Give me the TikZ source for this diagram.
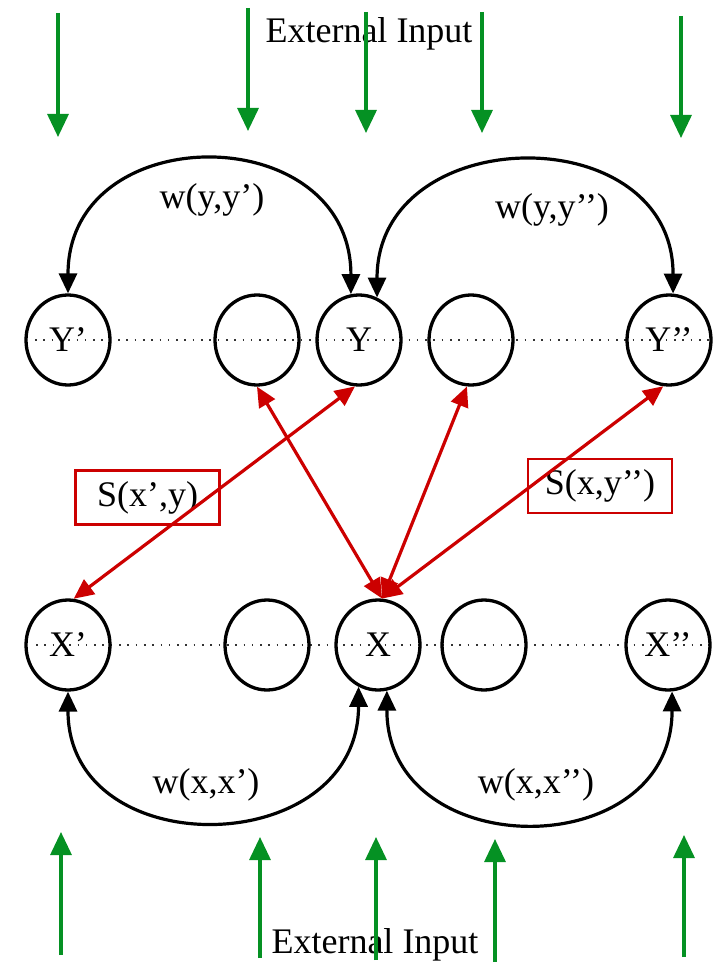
\documentclass[tikz,border=0pt]{standalone}
\usepackage{fontspec}
\setmainfont{Liberation Serif}
\usetikzlibrary{arrows.meta,shapes.geometric}
\definecolor{gr}{RGB}{5,145,35}
\definecolor{rd}{RGB}{204,0,0}
\tikzset{
  lbl/.style={font=\fontsize{36}{42}\selectfont, inner sep=0pt},
  unit/.style={ellipse, draw, line width=3.3pt, minimum width=84pt, minimum height=90pt, inner sep=0pt, font=\fontsize{36}{42}\selectfont},
  weight/.style={line width=3.2pt, {Triangle[length=20pt,width=18pt]}-{Triangle[length=20pt,width=18pt]}},
  sim/.style={rd, line width=3.2pt, {Triangle[length=20pt,width=18pt]}-{Triangle[length=20pt,width=18pt]}},
  simbox/.style={draw=rd, line width=2.8pt, minimum width=144pt, minimum height=54pt, inner sep=0pt, font=\fontsize{36}{42}\selectfont},
  inp/.style={gr, line width=3.2pt, -{Triangle[length=23pt,width=21pt]}},
  dotline/.style={line width=1.6pt, dash pattern=on 1.6pt off 6.7pt, black!80}
}
\begin{document}
\begin{tikzpicture}[x=1pt,y=-1pt]
\useasboundingbox (0,0) rectangle (713,963);

% dotted rows
\coordinate (dyl) at (35,340);
\coordinate (dyr) at (713,340);
\coordinate (dxl) at (36,645);
\coordinate (dxr) at (713,645);
\draw[dotline] (dyl) -- (dyr);
\draw[dotline] (dxl) -- (dxr);

% Y row
\node[unit] (Yp)  at (68,340)  {Y’};
\node[unit] (e1)  at (257,340) {};
\node[unit] (Y)   at (359,340) {Y};
\node[unit] (e2)  at (471,340) {};
\node[unit] (Ypp) at (669,340) {Y’’};

% X row
\node[unit] (Xp)  at (68,645)  {X’};
\node[unit] (f1)  at (267,645) {};
\node[unit] (X)   at (378,645) {X};
\node[unit] (f2)  at (484,645) {};
\node[unit] (Xpp) at (668,645) {X’’};

% weight arcs
\draw[weight] (Yp.north) .. controls +(0,-176) and +(0,-176) .. (Y.100);
\draw[weight] (Y.67) .. controls +(0,-177) and +(0,-177) .. (Ypp.85);
\draw[weight] (Xp.south) .. controls +(0,174) and +(0,174) .. (X.245);
\draw[weight] (X.281) .. controls +(0,174) and +(0,174) .. (Xpp.275);

\node[lbl] (wy1) at (212,200) {w(y,y’)};
\node[lbl] (wy2) at (552,210) {w(y,y’’)};
\node[lbl] (wx1) at (206,785) {w(x,x’)};
\node[lbl] (wx2) at (536,785) {w(x,x’’)};

% similarity boxes
\node[simbox] (s1) at (147.5,497.5) {S(x’,y)};
\node[simbox] (s2) at (600,486) {S(x,y’’)};

% red connections
\draw[sim] (Y.265) -- (Xp.83);
\draw[sim] (e1.south) -- (X.85);
\draw[sim] (e2.265) -- (X.85);
\draw[sim] (Ypp.263) -- (X.85);

% external input labels
\node[lbl, anchor=base] (eit) at (369,43) {External Input};
\node[lbl, anchor=base] (eib) at (375,953) {External Input};

% top green inputs
\coordinate (a1s) at (58,13);  \coordinate (a1e) at (58,137);
\coordinate (a2s) at (248,8);  \coordinate (a2e) at (248,131);
\coordinate (a3s) at (366,12); \coordinate (a3e) at (366,133);
\coordinate (a4s) at (482,12); \coordinate (a4e) at (482,133);
\coordinate (a5s) at (681,16); \coordinate (a5e) at (681,138);
\draw[inp] (a1s) -- (a1e);
\draw[inp] (a2s) -- (a2e);
\draw[inp] (a3s) -- (a3e);
\draw[inp] (a4s) -- (a4e);
\draw[inp] (a5s) -- (a5e);

% bottom green inputs
\coordinate (b1s) at (61,955);  \coordinate (b1e) at (61,832);
\coordinate (b2s) at (260,958); \coordinate (b2e) at (260,837);
\coordinate (b3s) at (376,960); \coordinate (b3e) at (376,837);
\coordinate (b4s) at (495,962); \coordinate (b4e) at (495,839);
\coordinate (b5s) at (684,957); \coordinate (b5e) at (684,835);
\draw[inp] (b1s) -- (b1e);
\draw[inp] (b2s) -- (b2e);
\draw[inp] (b3s) -- (b3e);
\draw[inp] (b4s) -- (b4e);
\draw[inp] (b5s) -- (b5e);
\end{tikzpicture}
\end{document}
